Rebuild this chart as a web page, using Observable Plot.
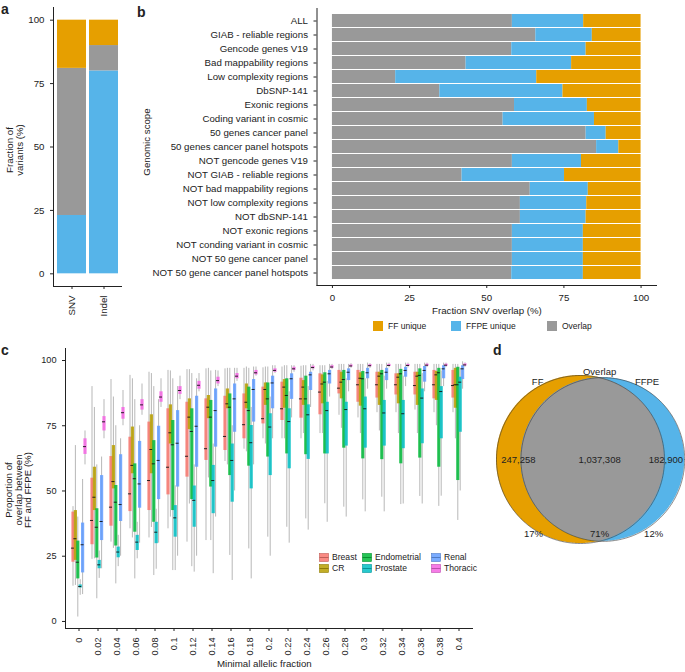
<!DOCTYPE html>
<html><head><meta charset="utf-8">
<script src="https://cdn.jsdelivr.net/npm/d3@7"></script>
<script src="https://cdn.jsdelivr.net/npm/@observablehq/plot@0.6"></script>
<style>
body{margin:0;background:#fff;font-family:"Liberation Sans",Arial,sans-serif;color:#222;}
#root{position:relative;width:685px;height:672px;overflow:hidden;background:#fff;}
#root svg{position:absolute;}
.plab{position:absolute;font-weight:bold;font-size:14px;line-height:1;}
.t{position:absolute;white-space:nowrap;line-height:1;}
.vt{position:absolute;transform:translate(-50%,-50%) rotate(-90deg);white-space:nowrap;text-align:center;}
.sw{position:absolute;}
</style></head><body><div id="root"></div>
<script>
// ---------- colours ----------
const clsNames = ["FF unique", "FFPE unique", "Overlap"];
const clsColors = ["#E69F00", "#56B4E9", "#999999"];

// ---------- panel a ----------
const varTypes = ["SNV", "Indel"];
const ffpeUniqueA = [23, 80];
const overlapA = [58, 10];
const ffUniqueA = [19, 10];

// ---------- panel b ----------
const scopes = ["ALL","GIAB - reliable regions","Gencode genes V19","Bad mappability regions","Low complexity regions","DbSNP-141","Exonic regions","Coding variant in cosmic","50 genes cancer panel","50 genes cancer panel hotspots","NOT gencode genes V19","NOT GIAB - reliable regions","NOT bad mappability regions","NOT low complexity regions","NOT dbSNP-141","NOT exonic regions","NOT conding variant in cosmic","NOT 50 gene cancer panel","NOT 50 gene cancer panel hotspots"];
const overlapB   = [58.3,65.9,58.1,43.3,20.5,34.8,59.0,55.3,82.2,85.6,58.3,42.0,64.1,60.9,60.9,58.3,58.3,58.3,58.1];
const ffpeUniqueB= [23.1,18.3,24.1,34.2,45.7,39.9,23.6,29.6,6.5,7.2,22.4,33.2,18.8,21.5,21.3,23.0,23.0,23.0,23.2];
const ffUniqueB  = [18.6,15.8,17.8,22.5,33.8,25.3,17.4,15.1,11.3,7.2,19.3,24.8,17.1,17.6,17.8,18.7,18.7,18.7,18.7];

// ---------- panel c ----------
const afLabels = ["0","0.02","0.04","0.06","0.08","0.1","0.12","0.14","0.16","0.18","0.2","0.22","0.24","0.26","0.28","0.3","0.32","0.34","0.36","0.38","0.4"];
const cancerTypes = ["Breast","CR","Endometrial","Prostate","Renal","Thoracic"];
const cancerColors = ["#F8766D","#B79F00","#00BA38","#00BFC4","#619CFF","#F564E3"];
// each entry: [lower whisker, Q1, median, Q3, upper whisker]
const breastBox = [[13.5,22.7,28.1,41.9,44],[23.8,29.4,38.7,54.9,90],[30.4,36.5,43.8,63.2,92.7],[35.5,42.1,48.9,70.6,94.3],[32,42.5,54,76.4,95.5],[35.5,48.5,59.1,81.5,96.2],[30.4,55.3,63.3,84,96.5],[31,61.7,66.2,85.3,96.8],[61.3,65.5,70.9,86.3,96.8],[66,70,75.4,87.2,97],[70,75.7,77.7,89.8,97.2],[70,77,81.5,91.7,97.5],[70,77.9,85.3,93.2,97.8],[72,79.2,87.9,94.9,98],[79,87.2,89.4,96.2,98.5],[78,84,90.7,96.2,98.5],[80,85.6,90.7,95.5,98.5],[80,86.8,90.7,94.9,98.5],[81,86.8,90.4,95.5,98.5],[80,85.3,90.7,96.2,98.5],[80,85.6,90.4,96.2,98.5]];
const crBox = [[13.8,23.4,31.7,42.5,67.4],[24,42.5,47.6,59.1,82],[28,50.8,53.6,67.4,86],[32,56.6,59.8,74.5,93],[36,56.6,65.9,79.2,95],[40,68,72.3,83,96],[45,73.5,78.3,85.3,96.5],[55,77.7,82.1,86.6,97],[60,81.5,83.4,89.1,97],[65,81.5,84,91,97.5],[68,82.8,88.9,91.4,97.5],[70,81.7,89.8,92.7,98],[72,82.8,89.8,92.3,98],[72,83.4,91,94.5,98],[74,85.3,91.7,95.5,98.5],[72,82.5,93.2,95.3,98.5],[73,82.8,94,95.5,98.5],[72,83.4,93.6,94.9,98.5],[72,82.8,94,95.5,98.5],[75,84.7,94.5,95.8,98.5],[70,81.7,90.7,97,98.5]];
const endometrialBox = [[1.7,16.3,22.7,30.8,40],[8.7,24.3,36.1,43.2,60],[14.4,28.9,45.7,52.1,75],[16.3,34.2,54.7,60.4,85],[17.6,38,60.4,69.3,90],[19.5,42.5,67.7,77,93],[21,46.7,72.8,81.5,95],[31,51.5,78.3,84.7,96],[25.3,55.9,82.1,87.2,97],[27.8,59.5,80.8,89.8,97],[32.3,63,85.3,91.4,97.5],[36.1,64.2,86.6,93,98],[39.3,63.9,85.3,94,98],[45.1,64.2,91.7,95.3,98],[43.8,66.4,92.7,96.2,98.5],[46.6,62.3,93,95.8,98.5],[47.6,62,94.9,96.2,98.5],[44.8,60.4,94.9,96.6,98.5],[47.9,62.6,94.3,96.8,98.5],[44.1,59.1,95.3,97,98.5],[38.7,54,90.7,97.4,98.5]];
const prostateBox = [[10,12.8,13.4,14,16],[16.5,20.2,21.7,23.4,27],[21,24.4,26.6,28.5,33],[24,27.2,30.4,33,38],[20,29.8,34.2,38,43],[19.5,32.3,39.7,44.4,52],[18.9,36.1,46.4,51.9,60],[18.3,41.3,54,59.8,68],[15.7,45.7,61.7,68,75],[16.3,50.8,68.5,75.1,82],[25,55.9,74.5,79.6,86],[30,58.5,76.6,81.5,88],[35,62.1,79.2,83,90],[38,64.2,80.8,84,92],[40,67.2,81.2,84,93],[42,66.4,81.5,86,93],[42,67.2,79.9,84.7,94],[45,66.2,79.6,84.7,94],[45,68.1,85.6,89.1,95],[48,70,88.1,90,96],[50,72.5,91.7,93.6,97]];
const renalBox = [[10.3,18.6,29.4,37.7,54.4],[20.2,31,38.3,55.9,63],[25,38.3,44.8,63.9,70],[30,43.4,52.7,69,75],[30,46.7,61.7,74.8,85],[25,51.5,68.3,80.8,90],[25,59.1,74.8,86.3,93],[40,66.8,80.8,89.1,96.2],[50,72.5,85.3,91,97],[60,76.4,88.9,92.7,97.5],[70,81.5,91.4,94,98],[78,85.1,93,94.9,98],[82,88.5,94.5,95.5,98.5],[86,91,94.9,96.2,98.5],[88,92.3,95.5,96.8,98.5],[89,93,95.3,97,99],[89,92.3,95.5,97,99],[90,93.6,96.2,97.4,99],[88,91.7,96.2,97.7,99],[90,93,96.8,98,99],[89,92.7,96.8,98,99.5]];
const thoracicBox = [[60,64,67,70,73],[70,73,76.5,78.5,85],[75,77.5,80,82,88.5],[79,81,83,85,91],[82,84,86,88,93],[85,87,88.5,90,94],[88,89,90.5,92,95],[90,91,92.3,93.6,96],[92,93,94,95,97],[94,94.5,95.3,96.2,97.5],[95,95.5,96.2,96.8,98],[95.5,96.2,96.8,97.4,98],[96,96.8,97.3,97.8,98.5],[96.5,97,97.5,98,98.5],[97,97.5,97.9,98.3,98.8],[97,97.6,98,98.4,98.8],[97.2,97.7,98.1,98.5,99],[97.2,97.7,98.1,98.5,99],[97.3,97.8,98.2,98.6,99],[97.3,97.8,98.2,98.6,99],[97.4,97.9,98.3,98.7,99.1]];

// ---------- panel d ----------
const vennNames = ["FF", "Overlap", "FFPE"];
const ffOnlyCount = 247258, bothCount = 1037308, ffpeOnlyCount = 182900;

// =====================================================
const root = document.getElementById("root");
const FONT = '"Liberation Sans", Arial, sans-serif';
function baseStyle(fs){ return {background:"transparent", overflow:"visible", fontFamily:FONT, fontSize:fs, color:"#222"}; }
function place(el, left, top){ el.style.left = left+"px"; el.style.top = top+"px"; root.appendChild(el); return el; }
function text(str, left, top, fs, cls){ const d=document.createElement("div"); d.className=cls||"t"; d.textContent=str; d.style.fontSize=fs+"px"; return place(d,left,top); }
function vtext(lines, cx, cy, fs, lh){ const d=document.createElement("div"); d.className="vt"; d.style.fontSize=fs+"px"; d.style.lineHeight=lh+"px"; d.innerHTML=lines.join("<br>"); return place(d,cx,cy); }

// ---- panel a ----
const aRows = [];
varTypes.forEach((v,i)=>{
  aRows.push({type:v, cls:"FFPE unique", value:ffpeUniqueA[i]});
  aRows.push({type:v, cls:"Overlap", value:overlapA[i]});
  aRows.push({type:v, cls:"FF unique", value:ffUniqueA[i]});
});
const plotA = Plot.plot({
  width:125, height:320, marginLeft:53, marginRight:4, marginTop:7, marginBottom:34,
  style: baseStyle("9.7px"),
  x:{domain:varTypes, paddingInner:0.1, paddingOuter:0.11, label:null, line:true, tickRotate:-90, tickSize:3},
  y:{domain:[-5,105], ticks:[0,25,50,75,100], label:null, line:true, tickSize:3},
  color:{domain:clsNames, range:clsColors},
  marks:[Plot.barY(aRows, Plot.stackY({x:"type", y:"value", fill:"cls"}))]
});
place(plotA, 0, 0);
vtext(["Fraction of","variants (%)"], 15, 150, 9.7, 10);

// ---- panel b ----
const bRows = [];
scopes.forEach((s,i)=>{
  bRows.push({scope:s, cls:"Overlap", value:overlapB[i]});
  bRows.push({scope:s, cls:"FFPE unique", value:ffpeUniqueB[i]});
  bRows.push({scope:s, cls:"FF unique", value:ffUniqueB[i]});
});
const plotB = Plot.plot({
  width:535, height:305, marginLeft:191.5, marginRight:4, marginTop:8, marginBottom:20,
  style: baseStyle("9.7px"),
  x:{domain:[-5,105], ticks:[0,25,50,75,100], label:null, line:true, tickSize:3},
  y:{domain:scopes, padding:0.1, label:null, line:true, tickSize:3},
  color:{domain:clsNames, range:clsColors},
  marks:[Plot.barX(bRows, Plot.stackX({y:"scope", x:"value", fill:"cls"}))]
});
place(plotB, 125, 0);
vtext(["Genomic scope"], 147, 142, 9.7, 10);
text("Fraction SNV overlap (%)", 432, 306, 9.7);
const bLegX = [373, 451, 547];
clsNames.forEach((n,i)=>{
  const s=document.createElement("div"); s.className="sw";
  s.style.width="10px"; s.style.height="10px"; s.style.background=clsColors[i];
  place(s, bLegX[i], 321);
  text(n, bLegX[i]+15, 322, 8.5);
});

// ---- panel c ----
const cW=480, cH=320, cML=65, cMR=8, cMT=8, cMB=32, cPadOuter=0.125;
const bw = (cW-cML-cMR)/(afLabels.length + 2*cPadOuter);
const boxW = 3.2, dodge = 2.4;
const boxSets = [breastBox, crBox, endometrialBox, prostateBox, renalBox, thoracicBox];
const cMarks = [];
cancerTypes.forEach((t,i)=>{
  const rows = boxSets[i].map((s,j)=>({af:afLabels[j], type:t, lo:s[0], q1:s[1], med:s[2], q3:s[3], hi:s[4]}));
  const off = (i-2.5)*dodge;
  cMarks.push(Plot.ruleX(rows,{x:"af", y1:"lo", y2:"hi", stroke:"#9a9a9a", strokeWidth:0.7, dx:off}));
  cMarks.push(Plot.ruleX(rows,{x:"af", y1:"q1", y2:"q3", stroke:cancerColors[i], strokeOpacity:0.85, strokeWidth:boxW, dx:off}));
  cMarks.push(Plot.tickY(rows,{x:"af", y:"med", stroke:"#111", strokeWidth:0.9, dx:off, insetLeft:(bw-boxW)/2, insetRight:(bw-boxW)/2}));
});
const plotC = Plot.plot({
  width:cW, height:cH, marginLeft:cML, marginRight:cMR, marginTop:cMT, marginBottom:cMB,
  style: baseStyle("9.2px"),
  x:{domain:afLabels, paddingInner:0, paddingOuter:cPadOuter, label:null, line:true, tickRotate:-90, tickSize:3},
  y:{domain:[-2.7,104.6], ticks:[0,25,50,75,100], label:null, line:true, tickSize:3},
  marks:cMarks
});
place(plotC, 0, 340);
vtext(["Proportion of","overlap between","FF and FFPE (%)"], 18, 490, 9.7, 9.5);
text("Minimal allelic fraction", 217, 659, 9.7);
const cLegX = [319, 362, 431], cLegY = [553, 564];
cancerTypes.forEach((t,i)=>{
  const col=i>>1, row=i%2;
  const ns="http://www.w3.org/2000/svg";
  const sv=document.createElementNS(ns,"svg"); sv.setAttribute("width","10"); sv.setAttribute("height","9");
  const r=document.createElementNS(ns,"rect"); r.setAttribute("x","0.5"); r.setAttribute("y","0.5"); r.setAttribute("width","9"); r.setAttribute("height","8");
  r.setAttribute("fill",cancerColors[i]); r.setAttribute("fill-opacity","0.85"); r.setAttribute("stroke",d3.color(cancerColors[i]).darker(0.7)); r.setAttribute("stroke-width","0.6");
  const l=document.createElementNS(ns,"line"); l.setAttribute("x1","0.5"); l.setAttribute("x2","9.5"); l.setAttribute("y1","4.5"); l.setAttribute("y2","4.5"); l.setAttribute("stroke",d3.color(cancerColors[i]).darker(1)); l.setAttribute("stroke-width","0.8");
  sv.appendChild(r); sv.appendChild(l);
  sv.style.left=cLegX[col]+"px"; sv.style.top=cLegY[row]+"px"; root.appendChild(sv);
  text(t, cLegX[col]+13, cLegY[row], 8.6);
});

// ---- panel d (area-proportional Venn) ----
const A1 = ffOnlyCount + bothCount, A2 = ffpeOnlyCount + bothCount, total = A1 + ffpeOnlyCount;
const r1 = Math.sqrt(A1/Math.PI), r2 = Math.sqrt(A2/Math.PI);
function lensArea(d){
  const a = r1*r1*Math.acos((d*d+r1*r1-r2*r2)/(2*d*r1));
  const b = r2*r2*Math.acos((d*d+r2*r2-r1*r1)/(2*d*r2));
  const c = 0.5*Math.sqrt((-d+r1+r2)*(d+r1-r2)*(d-r1+r2)*(d+r1+r2));
  return a+b-c;
}
let lo=Math.abs(r1-r2)+1e-9, hi=r1+r2-1e-9;
for (let k=0;k<100;k++){ const m=(lo+hi)/2; if (lensArea(m)>bothCount) lo=m; else hi=m; }
const dist=(lo+hi)/2, c1=0, c2=dist;
const kpx = 84/r1; // pixels per unit
function halfCircle(cx, r, n){ return d3.range(n+1).map(i=>{ const th=Math.PI*(1-i/n); return {x:cx+r*Math.cos(th), h:r*Math.sin(th)}; }); }
function ring(cx, r, n){ return d3.range(n+1).map(i=>{ const th=2*Math.PI*i/n; return {x:cx+r*Math.cos(th), y:r*Math.sin(th)}; }); }
const xa = c2-r2, xb = c1+r1;
const lensPts = d3.range(401).map(i=>{ const t=i/400; const x = xa + (xb-xa)*(1-Math.cos(Math.PI*t))/2;
  const h = Math.min(Math.sqrt(Math.max(0,r1*r1-(x-c1)**2)), Math.sqrt(Math.max(0,r2*r2-(x-c2)**2))); return {x,h}; });
const xInt = (dist*dist + r1*r1 - r2*r2)/(2*dist);
const fmtN = d3.format(","), fmtP = d3.format(".0%");
const vennCounts = [ffOnlyCount, bothCount, ffpeOnlyCount];
const countLabels = [
  {x:c1-0.74*r1, y:0, t:fmtN(vennCounts[0])},
  {x:xInt, y:0, t:fmtN(vennCounts[1])},
  {x:c2+0.77*r2, y:0, t:fmtN(vennCounts[2])}
];
const pctLabels = [
  {x:c1-0.56*r1, y:-0.89*r1, t:fmtP(vennCounts[0]/total)},
  {x:xInt, y:-0.89*r1, t:fmtP(vennCounts[1]/total)},
  {x:c2+0.62*r2, y:-0.89*r1, t:fmtP(vennCounts[2]/total)}
];
const nameLabels = [
  {x:c1-0.51*r1, y:0.92*r1, t:vennNames[0]},
  {x:xInt, y:1.04*r1, t:vennNames[1]},
  {x:c2+0.54*r2, y:0.92*r1, t:vennNames[2]}
];
const plotD = Plot.plot({
  width:230, height:220, margin:0,
  style: baseStyle("9.5px"),
  x:{domain:[-125/kpx, 105/kpx], range:[0,230], axis:null},
  y:{domain:[-101/kpx, 119/kpx], range:[220,0], axis:null},
  marks:[
    Plot.areaY(halfCircle(c1,r1,240), {x:"x", y1:d=>-d.h, y2:"h", fill:clsColors[0]}),
    Plot.areaY(halfCircle(c2,r2,240), {x:"x", y1:d=>-d.h, y2:"h", fill:clsColors[1]}),
    Plot.areaY(lensPts, {x:"x", y1:d=>-d.h, y2:"h", fill:clsColors[2]}),
    Plot.line(ring(c1,r1,360), {x:"x", y:"y", stroke:"#3a3a3a", strokeWidth:0.6}),
    Plot.line(ring(c2,r2,360), {x:"x", y:"y", stroke:"#3a3a3a", strokeWidth:0.6}),
    Plot.text(countLabels, {x:"x", y:"y", text:"t", fill:"#222"}),
    Plot.text(pctLabels, {x:"x", y:"y", text:"t", fill:"#222"}),
    Plot.text(nameLabels, {x:"x", y:"y", text:"t", fill:"#222"})
  ]
});
place(plotD, 455, 340);

// panel letters
text("a", 1, 2, 14, "plab");
text("b", 137, 5, 14, "plab");
text("c", 1, 343, 14, "plab");
text("d", 493, 343, 14, "plab");
</script></body></html>
